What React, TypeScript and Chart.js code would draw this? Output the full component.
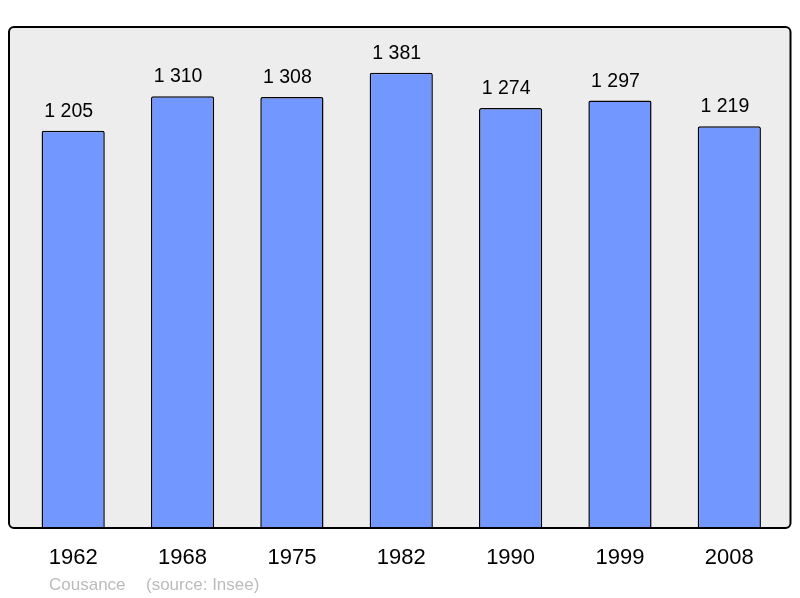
import React, { useEffect, useRef } from "react";
import { Chart, registerables } from "chart.js";

Chart.register(...registerables);

const years = ["1962", "1968", "1975", "1982", "1990", "1999", "2008"];
const population = [1205, 1310, 1308, 1381, 1274, 1297, 1219];
const footerName = "Cousance";
const footerSource = "(source: Insee)";

const fmt = (v: number) => {
  const s = String(v);
  return s.length > 3 ? s.slice(0, s.length - 3) + " " + s.slice(s.length - 3) : s;
};

const FONT = "'Liberation Sans', Arial, sans-serif";

const framePlugin = {
  id: "frame",
  beforeDatasetsDraw(chart: any) {
    const { ctx, chartArea } = chart;
    const x0 = chartArea.left - 9.5, y0 = chartArea.top, x1 = chartArea.right + 6.5, y1 = chartArea.bottom;
    ctx.save();
    ctx.beginPath();
    ctx.roundRect(x0, y0, x1 - x0, y1 - y0, 5);
    ctx.fillStyle = "#ededed";
    ctx.fill();
    ctx.restore();
  },
  afterDatasetsDraw(chart: any) {
    const { ctx, chartArea } = chart;
    const x0 = chartArea.left - 9.5, y0 = chartArea.top, x1 = chartArea.right + 6.5, y1 = chartArea.bottom;
    ctx.save();
    ctx.beginPath();
    ctx.roundRect(x0, y0, x1 - x0, y1 - y0, 5);
    ctx.lineWidth = 2;
    ctx.strokeStyle = "#000";
    ctx.stroke();
    // value labels
    const meta = chart.getDatasetMeta(0);
    ctx.fillStyle = "#000";
    ctx.font = `19.5px ${FONT}`;
    ctx.textAlign = "center";
    ctx.textBaseline = "alphabetic";
    meta.data.forEach((bar: any, i: number) => {
      ctx.fillText(fmt(population[i]), bar.x - 4.5, bar.y - 14);
    });
    // footer
    ctx.fillStyle = "#bbbbbb";
    ctx.font = `17px ${FONT}`;
    ctx.textAlign = "left";
    ctx.fillText(footerName, 49, 590);
    ctx.fillText(footerSource, 146, 590);
    ctx.restore();
  },
};

export default function App() {
  const ref = useRef<HTMLCanvasElement>(null);
  useEffect(() => {
    document.body.style.margin = "0";
    const chart = new Chart(ref.current!, {
      type: "bar",
      data: {
        labels: years,
        datasets: [
          {
            data: population,
            backgroundColor: "#7298ff",
            borderColor: "#000",
            borderWidth: 1.5,
            borderRadius: 2,
            borderSkipped: "bottom",
            barPercentage: 0.578,
            categoryPercentage: 1,
          },
        ],
      },
      options: {
        animation: false,
        responsive: false,
        layout: { padding: { left: 18.5, right: 16, top: 27, bottom: 0 } },
        plugins: { legend: { display: false }, tooltip: { enabled: false } },
        scales: {
          x: {
            grid: { display: false },
            border: { display: false },
            ticks: {
              color: "#000",
              font: { family: FONT, size: 22 },
              padding: 9,
              maxRotation: 0,
            },
            afterFit(scale: any) {
              scale.height = 70;
            },
          },
          y: { display: false, min: 0, max: 1520 },
        },
      },
      plugins: [framePlugin],
    });
    return () => chart.destroy();
  }, []);
  return <canvas ref={ref} width={800} height={598} style={{ display: "block" }} />;
}
